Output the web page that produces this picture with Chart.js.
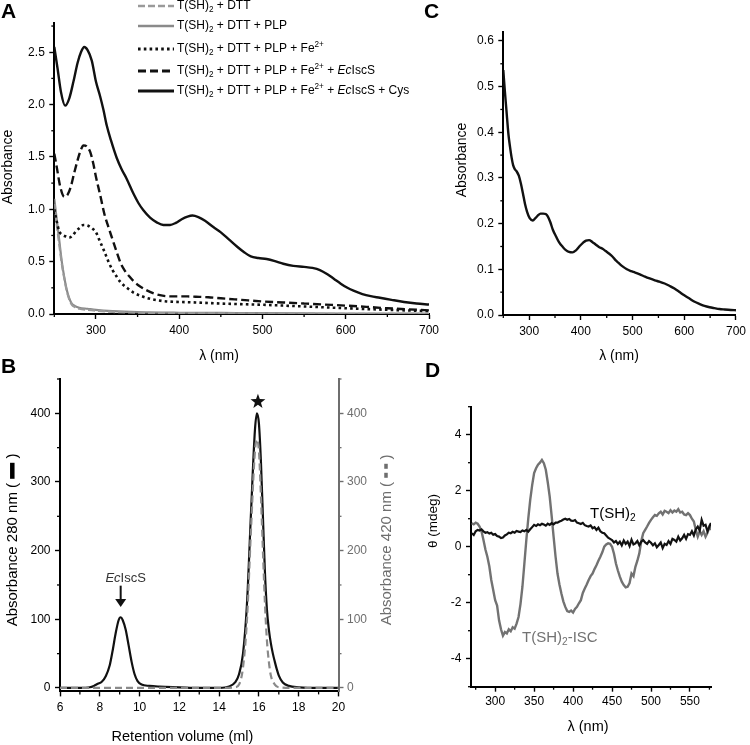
<!DOCTYPE html>
<html><head><meta charset="utf-8">
<script src="https://cdn.jsdelivr.net/npm/chart.js@4.4.1/dist/chart.umd.min.js"></script>
<style>
html,body{margin:0;padding:0;background:#fff;}
#wrap{position:relative;width:750px;height:745px;overflow:hidden;background:#fff;}
canvas{position:absolute;left:0;top:0;width:750px;height:745px;}
.lbl{position:absolute;font-family:'Liberation Sans',Arial,sans-serif;font-weight:bold;font-size:21px;line-height:21px;color:#000;}
</style></head><body>
<div id="wrap">
<canvas id="cA" width="750" height="745"></canvas>
<canvas id="cC" width="750" height="745"></canvas>
<canvas id="cB" width="750" height="745"></canvas>
<canvas id="cD" width="750" height="745"></canvas>
<div class="lbl" style="left:1px;top:0px">A</div>
<div class="lbl" style="left:424px;top:0px">C</div>
<div class="lbl" style="left:1px;top:355px">B</div>
<div class="lbl" style="left:425px;top:359px">D</div>
</div>
<script>
// ---------------- DATA ----------------
// Panel A: absorbance spectra (wavelength nm, absorbance)
const aDtt = [[250,1.05],[253,0.85],[256,0.66],[259,0.48],[262,0.34],[265,0.22],[268,0.14],[271,0.09],[275,0.065],[280,0.05],[290,0.04],[300,0.032],[320,0.02],[350,0.012],[400,0.008],[500,0.004],[600,0.002],[700,0.0]];
const aPlp = [[250,1.1],[253,0.9],[256,0.7],[259,0.5],[262,0.35],[265,0.23],[268,0.15],[271,0.1],[275,0.075],[280,0.06],[290,0.05],[300,0.04],[320,0.028],[350,0.018],[400,0.012],[450,0.01],[500,0.008],[600,0.005],[700,0.003]];
const aFe = [[250,1.0],[253,0.88],[256,0.79],[260,0.755],[264,0.74],[268,0.73],[272,0.75],[276,0.79],[280,0.82],[285,0.85],[290,0.845],[295,0.82],[300,0.78],[305,0.69],[310,0.6],[315,0.5],[320,0.42],[325,0.355],[330,0.3],[338,0.245],[345,0.205],[355,0.17],[365,0.145],[375,0.13],[385,0.12],[400,0.115],[420,0.11],[450,0.1],[500,0.088],[550,0.072],[600,0.055],[650,0.04],[700,0.028]];
const aEc = [[250,1.53],[253,1.4],[257,1.22],[262,1.12],[266,1.14],[270,1.22],[274,1.35],[278,1.47],[282,1.57],[285,1.61],[289,1.6],[293,1.55],[297,1.43],[300,1.31],[305,1.14],[310,0.96],[315,0.83],[320,0.71],[325,0.59],[330,0.48],[335,0.41],[340,0.36],[345,0.315],[350,0.28],[360,0.23],[370,0.195],[380,0.175],[390,0.168],[400,0.168],[410,0.168],[420,0.165],[435,0.16],[450,0.15],[475,0.135],[500,0.12],[525,0.11],[550,0.1],[575,0.09],[600,0.08],[625,0.068],[650,0.055],[675,0.045],[700,0.035]];
const aCys = [[250,2.55],[254,2.34],[258,2.12],[263,1.99],[268,2.06],[273,2.22],[278,2.4],[282,2.5],[286,2.55],[290,2.52],[295,2.42],[300,2.22],[305,2.08],[309,1.95],[313,1.8],[318,1.66],[325,1.49],[331,1.38],[337,1.29],[345,1.15],[351,1.06],[357,0.99],[365,0.92],[373,0.875],[381,0.85],[389,0.85],[396,0.87],[403,0.905],[410,0.93],[416,0.94],[423,0.925],[431,0.89],[441,0.83],[450,0.78],[460,0.71],[470,0.64],[478,0.59],[486,0.55],[495,0.535],[505,0.525],[515,0.505],[525,0.48],[537,0.46],[550,0.45],[560,0.44],[569,0.42],[578,0.38],[586,0.335],[594,0.29],[602,0.25],[610,0.22],[620,0.19],[630,0.17],[641,0.155],[655,0.135],[670,0.115],[685,0.1],[700,0.09]];
const aXTicks = [300,400,500,600,700];
const aYTicks = [0,0.5,1.0,1.5,2.0,2.5];
const aLegend = [
  [{t:'T(SH)'},{t:'2',sub:1},{t:' + DTT'}],
  [{t:'T(SH)'},{t:'2',sub:1},{t:' + DTT + PLP'}],
  [{t:'T(SH)'},{t:'2',sub:1},{t:' + DTT + PLP + Fe'},{t:'2+',sup:1}],
  [{t:'T(SH)'},{t:'2',sub:1},{t:' + DTT + PLP + Fe'},{t:'2+',sup:1},{t:' + '},{t:'Ec',it:1},{t:'IscS'}],
  [{t:'T(SH)'},{t:'2',sub:1},{t:' + DTT + PLP + Fe'},{t:'2+',sup:1},{t:' + '},{t:'Ec',it:1},{t:'IscS + Cys'}]
];

// Panel C: spectrum (wavelength nm, absorbance)
const cSpec = [[250,0.536],[253,0.49],[256,0.449],[260,0.395],[263,0.368],[266,0.345],[269,0.328],[273,0.318],[276,0.314],[280,0.305],[284,0.288],[288,0.266],[292,0.243],[296,0.226],[301,0.212],[307,0.207],[312,0.212],[317,0.218],[322,0.222],[327,0.222],[332,0.221],[336,0.216],[341,0.203],[346,0.186],[352,0.172],[358,0.159],[365,0.149],[371,0.142],[377,0.138],[384,0.137],[390,0.141],[397,0.15],[404,0.158],[410,0.163],[416,0.164],[422,0.16],[428,0.155],[435,0.149],[442,0.145],[448,0.14],[455,0.134],[461,0.128],[467,0.12],[473,0.114],[480,0.107],[489,0.1],[497,0.096],[505,0.093],[514,0.089],[524,0.084],[533,0.08],[543,0.076],[552,0.073],[562,0.069],[571,0.064],[581,0.058],[590,0.051],[600,0.043],[610,0.036],[620,0.029],[630,0.024],[639,0.02],[649,0.017],[658,0.015],[668,0.013],[678,0.012],[690,0.011],[700,0.0105]];
const cXTicks = [300,400,500,600,700];
const cYTicks = [0,0.1,0.2,0.3,0.4,0.5,0.6];

// Panel B: chromatogram (retention volume ml, absorbance)
const b280 = [[6,0],[6.5,0],[7,0],[7.5,1],[7.7,3],[7.9,6],[8.1,9],[8.3,17],[8.5,33],[8.65,55],[8.8,80],[8.95,99],[9.05,103],[9.15,99],[9.3,85],[9.45,62],[9.6,38],[9.75,20],[9.9,10],[10.1,5],[10.5,3],[11,2],[12,1],[13,0],[14,0],[14.5,2],[14.8,8],[15.0,20],[15.2,50],[15.4,123],[15.6,254],[15.8,376],[15.9,400],[16.0,385],[16.1,330],[16.2,250],[16.3,170],[16.4,115],[16.5,85],[16.6,65],[16.7,50],[16.8,38],[16.9,27],[17.0,18],[17.2,8],[17.5,3],[18,1],[19,0],[20,0]];
const b420 = [[6,0],[8,0],[10,0],[12,0],[14,0],[14.8,1],[15.0,5],[15.2,30],[15.4,100],[15.6,230],[15.8,345],[15.9,362],[16.0,345],[16.1,280],[16.2,200],[16.3,125],[16.4,70],[16.5,38],[16.6,18],[16.8,5],[17,1],[18,0],[20,0]];
const bXTicks = [6,8,10,12,14,16,18,20];
const bYTicks = [0,100,200,300,400];
const bStar = [15.95, 417];
const bArrow = [9.05, 149, 118];
const bArrowLabel = [9.3, 159];

// Panel D: CD spectra (wavelength nm, theta mdeg)
const dIsc = [[270,0.84],[272.5,0.8],[275,0.86],[277.5,0.82],[280,0.72],[282.5,0.55],[285,0.24],[287.5,-0.1],[290,-0.36],[292.5,-0.7],[295,-1.19],[297.5,-1.55],[300,-1.91],[302.5,-2.1],[305,-2.63],[307.5,-2.95],[310,-3.18],[312.5,-3.05],[315,-3.1],[317.5,-2.95],[320,-3.02],[322.5,-2.88],[325,-2.93],[327.5,-2.75],[330,-2.51],[332.5,-2.05],[335,-1.43],[337.5,-0.6],[340,0.24],[342.5,1.0],[345,1.67],[347.5,2.2],[350,2.63],[352.5,2.8],[355,2.93],[357.5,3.0],[360,3.1],[362.5,2.98],[365,2.75],[367.5,2.3],[370,1.79],[372.5,1.1],[375,0.36],[377.5,-0.35],[380,-0.96],[382.5,-1.35],[385,-1.67],[387.5,-1.95],[390,-2.15],[392.5,-2.3],[395,-2.33],[397.5,-2.28],[400,-2.35],[402.5,-2.22],[405,-2.15],[407.5,-2.02],[410,-1.91],[412.5,-1.65],[415,-1.49],[417.5,-1.35],[420,-1.19],[422.5,-1.05],[425,-0.96],[427.5,-0.8],[430,-0.66],[432.5,-0.5],[435,-0.36],[437.5,-0.2],[440,0.0],[442.5,0.08],[445,0.12],[447.5,0.1],[450,0.0],[452.5,-0.25],[455,-0.6],[457.5,-0.85],[460,-1.07],[462.5,-1.25],[465,-1.37],[467.5,-1.45],[470,-1.43],[472.5,-1.3],[475,-0.96],[477.5,-1.05],[480,-0.72],[482.5,-0.5],[485,-0.24],[487.5,0.2],[490,0.48],[492.5,0.6],[495,0.72],[497.5,0.85],[500,0.96],[502.5,1.05],[505,1.13],[507.5,1.1],[510,1.19],[512.5,1.25],[515,1.15],[517.5,1.28],[520,1.25],[522.5,1.2],[525,1.3],[527.5,1.22],[530,1.29],[532.5,1.25],[535,1.34],[537.5,1.22],[540,1.25],[542.5,1.15],[545,1.13],[547.5,1.2],[550,1.13],[552.5,1.0],[555,0.9],[557.5,0.6],[560,0.36],[562.5,0.55],[565,0.42],[567.5,0.55],[570,0.36],[572.5,0.5],[575,0.72],[577,0.6]];
const dTsh = [[270,0.48],[272.5,0.42],[275,0.55],[277.5,0.6],[280,0.58],[282.5,0.62],[285,0.55],[287.5,0.5],[290,0.52],[292.5,0.47],[295,0.5],[297.5,0.43],[300,0.45],[302.5,0.38],[305,0.36],[307.5,0.31],[310,0.33],[312.5,0.4],[315,0.44],[317.5,0.5],[320,0.48],[322.5,0.53],[325,0.5],[327.5,0.56],[330,0.54],[332.5,0.52],[335,0.58],[337.5,0.55],[340,0.6],[342.5,0.54],[345,0.62],[347.5,0.7],[350,0.78],[352.5,0.74],[355,0.8],[357.5,0.77],[360,0.82],[362.5,0.79],[365,0.75],[367.5,0.82],[370,0.78],[372.5,0.84],[375,0.8],[377.5,0.86],[380,0.86],[382.5,0.9],[385,0.93],[387.5,0.97],[390,1.0],[392.5,0.96],[395,0.99],[397.5,0.93],[400,0.92],[402.5,0.95],[405,0.86],[407.5,0.84],[410,0.81],[412.5,0.85],[415,0.77],[417.5,0.74],[420,0.72],[422.5,0.76],[425,0.66],[427.5,0.7],[430,0.6],[432.5,0.68],[435,0.55],[437.5,0.5],[440,0.48],[442.5,0.4],[445,0.32],[447.5,0.28],[450,0.24],[452.5,0.15],[455,0.2],[457.5,0.1],[460,0.18],[462.5,0.05],[465,0.22],[467.5,0.1],[470,0.18],[472.5,0.02],[475,0.25],[477.5,0.08],[480,0.12],[482.5,0.2],[485,0.05],[487.5,0.18],[490,0.24],[492.5,0.15],[495,0.1],[497.5,0.2],[500,0.14],[502.5,0.05],[505,0.12],[507.5,-0.02],[510,0.06],[512.5,0.15],[515,-0.05],[517.5,0.1],[520,0.06],[522.5,0.2],[525,0.1],[527.5,0.28],[530,0.24],[532.5,0.18],[535,0.36],[537.5,0.22],[540,0.3],[542.5,0.42],[545,0.28],[547.5,0.45],[550,0.42],[552.5,0.55],[555,0.4],[557.5,0.62],[560,0.72],[562.5,0.58],[565,0.96],[567.5,0.75],[570,0.78],[572.5,0.55],[575,0.72],[577,0.85]];
const dXTicks = [300,350,400,450,500,550];
const dYTicks = [-4,-2,0,2,4];
const dTshLabel = [451, 1.17];
const dIscLabel = [383, -3.27];

// ---------------- HELPERS ----------------
const FAM = "'Liberation Sans', Arial, Helvetica, sans-serif";
function runFont(r, size){ const s=(r.sub||r.sup)?size*0.68:size; return (r.it?'italic ':'')+s+'px '+FAM; }
function runW(ctx, r, size){ if(r.bar) return r.bar.w; ctx.font=runFont(r,size); return ctx.measureText(r.t).width; }
function drawRich(ctx, runs, x, y, size, color, align, rot){
  ctx.save();
  let w=0; runs.forEach(r=>w+=runW(ctx,r,size));
  ctx.translate(x,y); ctx.rotate(rot||0);
  let cx = align==='left'?0:-w/2;
  ctx.fillStyle=color; ctx.textBaseline='middle'; ctx.textAlign='left';
  runs.forEach(r=>{
    const rw=runW(ctx,r,size);
    if(r.bar){ const b=r.bar, n=b.n||1, seg=(b.w-(n-1)*b.gap)/n;
      for(let i=0;i<n;i++) ctx.fillRect(cx+i*(seg+b.gap), -b.h/2-1, seg, b.h);
    } else { ctx.font=runFont(r,size); const dy=r.sub?size*0.28:(r.sup?-size*0.32:0); ctx.fillText(r.t,cx,dy); }
    cx+=rw;
  });
  ctx.restore();
}
function pts(pairs){ return pairs.map(p=>({x:p[0],y:p[1]})); }
function line(pairs, o){ return Object.assign({data:pts(pairs), pointRadius:0, borderWidth:2, fill:false, borderColor:'#000', cubicInterpolationMode:'monotone', borderCapStyle:'butt'}, o); }

function axis(o){
  const col=o.color||'#000';
  const s={ type:'linear', position:o.pos, min:o.min, max:o.max,
    ticks:{ font:{family:FAM,size:12}, color:col, padding:o.pad!=null?o.pad:4.5, autoSkip:false, maxRotation:0,
      callback:o.fmt||(v=>String(v)) },
    grid:{ display:true, drawOnChartArea:false, drawTicks:true, tickLength:5, tickWidth:1.4, tickColor:col, color:col },
    border:{ display:true, color:col, width:2 },
    title:{ display:false },
    afterBuildTicks(sc){ sc.ticks=o.ticks.map(v=>({value:v})); }
  };
  if(o.pos==='bottom') s.afterFit=function(sc){ sc.height=28; };
  else s.afterFit=function(sc){ sc.width=40; };
  return s;
}
function minorPlugin(cfg){
  return { id:'minorTicks', afterDraw(chart){
    const ctx=chart.ctx;
    Object.keys(cfg).forEach(id=>{
      const sc=chart.scales[id], m=cfg[id];
      ctx.save(); ctx.strokeStyle=m.color||'#000'; ctx.lineWidth=1.3;
      const n0=Math.ceil(sc.min/m.step-1e-6), n1=Math.floor(sc.max/m.step+1e-6);
      for(let n=n0;n<=n1;n++){
        const v=n*m.step;
        if(m.major.some(t=>Math.abs(t-v)<1e-6)) continue;
        const p=sc.getPixelForValue(v);
        ctx.beginPath();
        if(sc.options.position==='bottom'){ ctx.moveTo(p,sc.top); ctx.lineTo(p,sc.top+3); }
        else if(sc.options.position==='left'){ ctx.moveTo(sc.right,p); ctx.lineTo(sc.right-3,p); }
        else { ctx.moveTo(sc.left,p); ctx.lineTo(sc.left+3,p); }
        ctx.stroke();
      }
      ctx.restore();
    });
  }};
}
function textPlugin(items){
  return { id:'txt', afterDraw(chart){
    const ctx=chart.ctx;
    items.forEach(it=>{
      let x=it.x, y=it.y;
      if(it.at){ x=chart.scales[it.xs||'x'].getPixelForValue(it.at[0]); y=chart.scales[it.ys||'y'].getPixelForValue(it.at[1]); }
      drawRich(ctx,it.runs,x,y,it.size,it.color||'#000',it.align||'center',it.rot||0);
    });
  }};
}
const base = { responsive:false, animation:false, devicePixelRatio:1, events:[],
  plugins:{ legend:{display:false}, tooltip:{enabled:false} } };
const fmt1 = v=>v.toFixed(1);
const ROT = -Math.PI/2;

// ---------------- PANEL A ----------------
const aSets = [
  line(aDtt,{borderColor:'#9a9a9a', borderDash:[7,3], borderWidth:2.2, order:3}),
  line(aPlp,{borderColor:'#8a8a8a', borderWidth:2.2, order:4}),
  line(aFe,{borderColor:'#111', borderDash:[2.6,3.2], borderWidth:2.6, order:2}),
  line(aEc,{borderColor:'#111', borderDash:[8,4], borderWidth:2.4, order:1}),
  line(aCys,{borderColor:'#111', borderWidth:2.4, order:0})
];
const legendA = { id:'legA', afterDraw(chart){
  const ctx=chart.ctx, ys=[6,26,49,71,91];
  aSets.forEach((d,i)=>{
    ctx.save(); ctx.strokeStyle=d.borderColor; ctx.lineWidth=d.borderWidth+0.4; ctx.setLineDash(d.borderDash||[]);
    ctx.beginPath(); ctx.moveTo(138,ys[i]); ctx.lineTo(174,ys[i]); ctx.stroke(); ctx.restore();
    drawRich(ctx,aLegend[i],177,ys[i],12,'#000','left',0);
  });
}};
new Chart(document.getElementById('cA'), {
  type:'line', data:{datasets:aSets},
  options:Object.assign({}, base, {
    layout:{padding:{left:14.3, top:22.9, right:321, bottom:403}},
    scales:{
      x:axis({pos:'bottom', min:250, max:700, ticks:aXTicks, pad:4}),
      y:axis({pos:'left', min:0, max:2.78, ticks:aYTicks, fmt:fmt1})
    }
  }),
  plugins:[minorPlugin({x:{step:50,major:aXTicks}, y:{step:0.25,major:aYTicks}}), legendA,
    textPlugin([
      {x:219,y:356,runs:[{t:'λ (nm)'}],size:14},
      {x:8,y:167,runs:[{t:'Absorbance'}],size:14,rot:ROT}
    ])]
});

// ---------------- PANEL C ----------------
new Chart(document.getElementById('cC'), {
  type:'line', data:{datasets:[ line(cSpec,{borderColor:'#111', borderWidth:2.4}) ]},
  options:Object.assign({}, base, {
    layout:{padding:{left:463.3, top:31.8, right:11.5, bottom:402}},
    scales:{
      x:axis({pos:'bottom', min:250, max:700, ticks:cXTicks, pad:4}),
      y:axis({pos:'left', min:0, max:0.62, ticks:cYTicks, fmt:fmt1})
    }
  }),
  plugins:[minorPlugin({x:{step:50,major:cXTicks}, y:{step:0.05,major:cYTicks}}),
    textPlugin([
      {x:619,y:356,runs:[{t:'λ (nm)'}],size:14},
      {x:462,y:160,runs:[{t:'Absorbance'}],size:14,rot:ROT}
    ])]
});

// ---------------- PANEL B ----------------
const bDeco = { id:'bDeco', afterDraw(chart){
  const ctx=chart.ctx, sx=chart.scales.x, sy=chart.scales.y;
  // star
  const cx=sx.getPixelForValue(bStar[0]), cy=sy.getPixelForValue(bStar[1]);
  ctx.save(); ctx.fillStyle='#111'; ctx.beginPath();
  for(let i=0;i<10;i++){ const a=-Math.PI/2+i*Math.PI/5, r=(i%2)?3.2:7.8; ctx.lineTo(cx+r*Math.cos(a), cy+r*Math.sin(a)); }
  ctx.closePath(); ctx.fill();
  // arrow
  const ax=sx.getPixelForValue(bArrow[0]), y1=sy.getPixelForValue(bArrow[1]), y2=sy.getPixelForValue(bArrow[2]);
  ctx.strokeStyle='#111'; ctx.lineWidth=2; ctx.beginPath(); ctx.moveTo(ax,y1); ctx.lineTo(ax,y2-7); ctx.stroke();
  ctx.beginPath(); ctx.moveTo(ax-5.5,y2-8); ctx.lineTo(ax+5.5,y2-8); ctx.lineTo(ax,y2); ctx.closePath(); ctx.fill();
  ctx.restore();
}};
new Chart(document.getElementById('cB'), {
  type:'line', data:{datasets:[
    line(b420,{borderColor:'#8a8a8a', borderDash:[7,4], borderWidth:2.2, yAxisID:'y2', order:0}),
    line(b280,{borderColor:'#111', borderWidth:2.2, yAxisID:'y', order:1})
  ]},
  options:Object.assign({}, base, {
    layout:{padding:{left:20, top:379, right:371.5, bottom:25.6}},
    scales:{
      x:axis({pos:'bottom', min:6, max:20, ticks:bXTicks, pad:4}),
      y:axis({pos:'left', min:-5, max:450, ticks:bYTicks}),
      y2:axis({pos:'right', min:-5, max:450, ticks:bYTicks, color:'#6e6e6e', pad:3.5})
    }
  }),
  plugins:[minorPlugin({x:{step:1,major:bXTicks}, y:{step:50,major:bYTicks}, y2:{step:50,major:bYTicks,color:'#6e6e6e'}}), bDeco,
    textPlugin([
      {x:182.5,y:737,runs:[{t:'Retention volume (ml)'}],size:14.5},
      {x:13.3,y:540,runs:[{t:'Absorbance 280 nm ( '},{bar:{w:16,h:4.5,gap:0}},{t:' )'}],size:15,rot:ROT},
      {x:387,y:540,runs:[{t:'Absorbance 420 nm ( '},{bar:{w:14,h:3.5,gap:4,n:2}},{t:' )'}],size:15,rot:ROT,color:'#6e6e6e'},
      {at:bArrowLabel,runs:[{t:'Ec',it:1},{t:'IscS'}],size:13,color:'#333'}
    ])]
});

// ---------------- PANEL D ----------------
new Chart(document.getElementById('cD'), {
  type:'line', data:{datasets:[
    line(dTsh,{borderColor:'#111', borderWidth:2.2, cubicInterpolationMode:'default', tension:0, order:0}),
    line(dIsc,{borderColor:'#727272', borderWidth:2.4, cubicInterpolationMode:'default', tension:0, order:1})
  ]},
  options:Object.assign({}, base, {
    layout:{padding:{left:431, top:406.7, right:39, bottom:30.3}},
    scales:{
      x:axis({pos:'bottom', min:269, max:577, ticks:dXTicks, pad:3}),
      y:axis({pos:'left', min:-5, max:5, ticks:dYTicks})
    }
  }),
  plugins:[minorPlugin({x:{step:25,major:dXTicks}, y:{step:1,major:dYTicks}}),
    textPlugin([
      {x:588,y:727,runs:[{t:'λ (nm)'}],size:14.5},
      {x:433,y:521,runs:[{t:'θ (mdeg)'}],size:13.5,rot:ROT},
      {at:dTshLabel,runs:[{t:'T(SH)'},{t:'2',sub:1}],size:15},
      {at:dIscLabel,runs:[{t:'T(SH)'},{t:'2',sub:1},{t:'-ISC'}],size:15,color:'#727272'}
    ])]
});
</script>
</body></html>
